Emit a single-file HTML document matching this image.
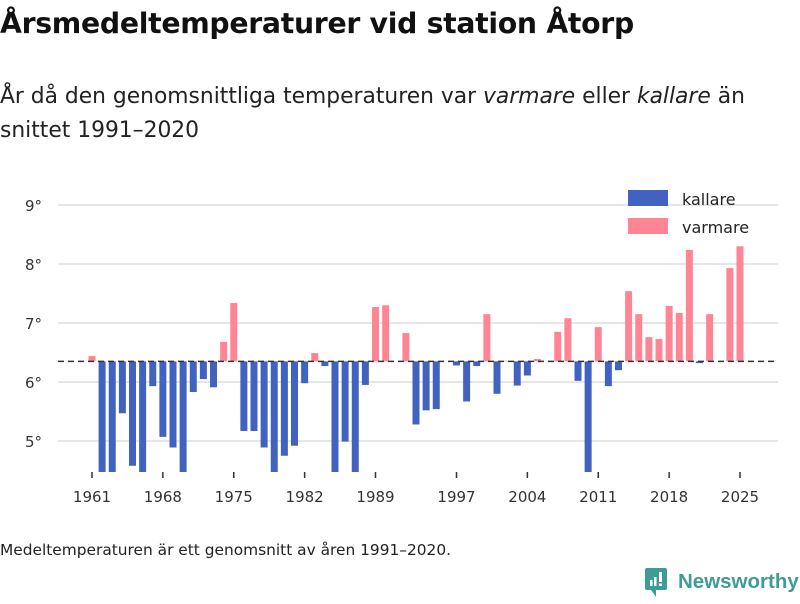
<!DOCTYPE html>
<html><head><meta charset="utf-8"><style>
body{margin:0;width:800px;height:600px;background:#fff;font-family:"DejaVu Sans","Liberation Sans",sans-serif;color:#111;overflow:hidden;position:relative}
h1{position:absolute;left:0;top:7px;margin:0;font-size:28.3px;font-weight:bold;letter-spacing:-0.3px;white-space:nowrap}
.sub{position:absolute;left:0;top:80px;font-size:21.8px;line-height:34px;color:#222;white-space:nowrap}
.foot{position:absolute;left:0;top:541px;font-size:15.4px;color:#222;white-space:nowrap}
.logo{position:absolute;left:645px;top:568px;font-family:"Liberation Sans",sans-serif;font-size:20.5px;font-weight:bold;color:#3e9b95;white-space:nowrap}
.logo span{position:absolute;left:33px;top:2px}
</style></head><body>
<h1>Årsmedeltemperaturer vid station Åtorp</h1>
<div class="sub">År då den genomsnittliga temperaturen var <i>varmare</i> eller <i>kallare</i> än<br>snittet 1991–2020</div>
<svg id="chart" width="800" height="520" style="position:absolute;left:0;top:0"></svg>
<div class="foot">Medeltemperaturen är ett genomsnitt av åren 1991–2020.</div>
<div class="logo"><svg width="24" height="30"><rect x="0" y="0" width="22" height="22" rx="2" fill="#3e9b95"/><path d="M6 22 L11 29 L11 22Z" fill="#3e9b95"/><rect x="5" y="12" width="2.5" height="6" fill="#fff"/><rect x="9" y="9" width="2.5" height="9" fill="#fff"/><rect x="14" y="4" width="3" height="10" fill="#fff"/><rect x="14" y="15.5" width="3" height="2.5" fill="#fff"/></svg><span>Newsworthy</span></div>
<script>
const years=[];for(let y=1961;y<=2025;y++)years.push(y);
const temps=[6.44,4.4,4.4,5.47,4.58,4.4,5.93,5.07,4.89,4.4,5.83,6.05,5.91,6.68,7.34,5.17,5.17,4.89,4.4,4.75,4.92,5.98,6.49,6.27,4.4,4.99,4.4,5.95,7.27,7.30,6.35,6.83,5.28,5.52,5.54,6.35,6.28,5.67,6.27,7.15,5.8,6.36,5.94,6.11,6.39,6.35,6.85,7.08,6.02,4.4,6.93,5.93,6.2,7.54,7.15,6.76,6.73,7.29,7.17,8.24,6.32,7.15,6.35,7.93,8.30];
const baseline=6.35;
const yTicks=[5,6,7,8,9];
const xTicks=[1961,1968,1975,1982,1989,1997,2004,2011,2018,2025];
const NS="http://www.w3.org/2000/svg",svg=document.getElementById('chart');
const plotBottom=472;
const xS=y=>92+(y-1961)*10.125;
const yS=v=>382-(v-6)*59;
function el(t,a){const e=document.createElementNS(NS,t);for(const k in a)e.setAttribute(k,a[k]);svg.appendChild(e);return e;}
yTicks.forEach(t=>{
 const l=el('line',{x1:58,x2:778,y1:yS(t),y2:yS(t),stroke:'#ddd','stroke-width':1.5});
 
 
 const tx=el('text',{x:42,y:yS(t)+6,'text-anchor':'end','font-size':15,fill:'#333'});tx.textContent=t+'°';
 
 
});
years.forEach((y,i)=>{
 const v=Math.max(temps[i],4.4);const a=yS(v),b=yS(baseline);
 const top=Math.min(a,b),h=Math.min(Math.abs(a-b),plotBottom-top);
 if(h<0.5)return;
 const r=el('rect',{x:xS(y)-3.5,y:top,width:7,height:h,fill:temps[i]>=baseline?'#ff8595':'#4163bf'});
 
 
});
const bl=el('line',{x1:58,x2:778,y1:yS(baseline),y2:yS(baseline),stroke:'#333','stroke-width':1.5,'stroke-dasharray':'6,4'});


xTicks.forEach(t=>{
 const l=el('line',{x1:xS(t),x2:xS(t),y1:plotBottom,y2:plotBottom+6,stroke:'#333','stroke-width':1.5});
 
 
 const tx=el('text',{x:xS(t),y:plotBottom+30,'text-anchor':'middle','font-size':15,fill:'#333'});tx.textContent=t;
 
 
});
[['kallare','#4163bf',190],['varmare','#ff8595',218]].forEach(([n,c,y])=>{
 const r=el('rect',{x:628,y:y,width:40,height:16,fill:c});
 
 
 const t=el('text',{x:682,y:y+15,'font-size':16,fill:'#222'});t.textContent=n;
 
 
});
</script>
</body></html>
